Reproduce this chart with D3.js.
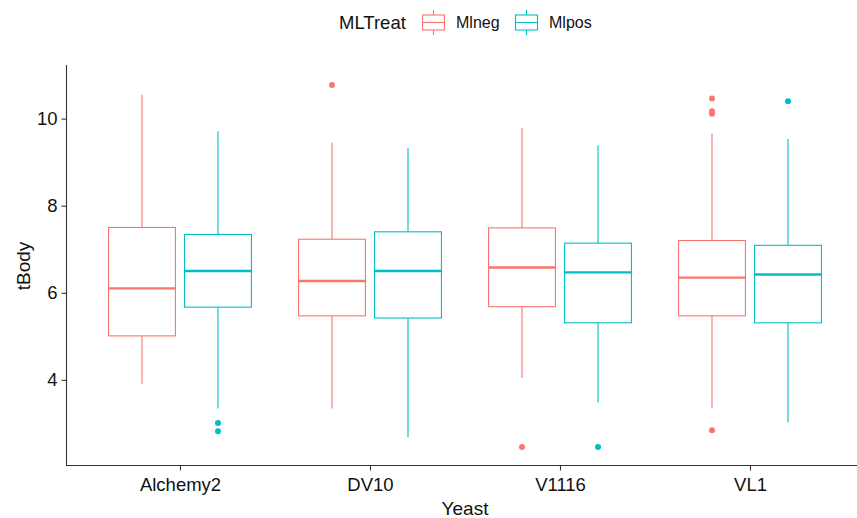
<!DOCTYPE html>
<html>
<head>
<meta charset="utf-8">
<script src="https://cdn.jsdelivr.net/npm/d3@7"></script>
<style>
  html, body { margin: 0; padding: 0; background: #fff; }
  svg { display: block; font-family: "Liberation Sans", Arial, sans-serif; }
</style>
</head>
<body>
<svg id="chart" width="857" height="518"></svg>
<script>
// Yeast strains on the x axis, treatment groups dodged within each strain
const categories = ["Alchemy2", "DV10", "V1116", "VL1"];
const groups = ["Mlneg", "Mlpos"];
const yTicks = [4, 6, 8, 10];

// Box statistics per strain (same order as categories)
const mlnegLower  = [3.91, 3.34, 4.04, 3.34];
const mlnegQ1     = [5.01, 5.47, 5.68, 5.47];
const mlnegMedian = [6.10, 6.27, 6.58, 6.35];
const mlnegQ3     = [7.50, 7.23, 7.49, 7.20];
const mlnegUpper  = [10.55, 9.45, 9.79, 9.66];
const mlnegOutliers = [[], [10.77], [2.46], [10.46, 10.17, 10.11, 2.84]];

const mlposLower  = [3.34, 2.69, 3.48, 3.02];
const mlposQ1     = [5.67, 5.42, 5.31, 5.31];
const mlposMedian = [6.50, 6.50, 6.47, 6.42];
const mlposQ3     = [7.34, 7.40, 7.14, 7.09];
const mlposUpper  = [9.71, 9.33, 9.39, 9.53];
const mlposOutliers = [[3.01, 2.82], [], [2.46], [10.40]];

const colors = { Mlneg: "#F8766D", Mlpos: "#00BFC4" };

// Assemble rows for drawing
const series = {
  Mlneg: { lower: mlnegLower, q1: mlnegQ1, median: mlnegMedian, q3: mlnegQ3, upper: mlnegUpper, out: mlnegOutliers },
  Mlpos: { lower: mlposLower, q1: mlposQ1, median: mlposMedian, q3: mlposQ3, upper: mlposUpper, out: mlposOutliers }
};
const boxes = [];
categories.forEach((c, i) => {
  groups.forEach(g => {
    const s = series[g];
    boxes.push({ cat: c, group: g, lower: s.lower[i], q1: s.q1[i], median: s.median[i],
                 q3: s.q3[i], upper: s.upper[i], out: s.out[i] });
  });
});

const svg = d3.select("#chart");
const panel = { left: 66, right: 864, top: 67, bottom: 465 };

// Discrete x with 0.6-unit expansion on both sides
const x = d3.scalePoint().domain(categories).range([panel.left, panel.right]).padding(0.6);
const step = x.step();
const dodge = d3.scaleBand().domain(groups).range([-0.4 * step, 0.4 * step]);
const boxW = dodge.bandwidth() * 0.88;

// y expanded 5% beyond the data range
const allVals = boxes.flatMap(b => [b.lower, b.upper, ...b.out]);
const lo = d3.min(allVals), hi = d3.max(allVals);
const pad = (hi - lo) * 0.05;
const y = d3.scaleLinear().domain([lo - pad, hi + pad]).range([panel.bottom, panel.top]);

const cx = b => x(b.cat) + dodge(b.group) + dodge.bandwidth() / 2;

// Boxes
const g = svg.append("g");
const bx = g.selectAll("g.box").data(boxes).join("g").attr("class", "box");

bx.append("line")
  .attr("x1", cx).attr("x2", cx)
  .attr("y1", b => y(b.upper)).attr("y2", b => y(b.q3))
  .attr("stroke", b => colors[b.group]).attr("stroke-width", 1.1);
bx.append("line")
  .attr("x1", cx).attr("x2", cx)
  .attr("y1", b => y(b.q1)).attr("y2", b => y(b.lower))
  .attr("stroke", b => colors[b.group]).attr("stroke-width", 1.1);
bx.append("rect")
  .attr("x", b => cx(b) - boxW / 2).attr("width", boxW)
  .attr("y", b => y(b.q3)).attr("height", b => y(b.q1) - y(b.q3))
  .attr("fill", "#fff").attr("stroke", b => colors[b.group]).attr("stroke-width", 1.1);
bx.append("line")
  .attr("x1", b => cx(b) - boxW / 2).attr("x2", b => cx(b) + boxW / 2)
  .attr("y1", b => y(b.median)).attr("y2", b => y(b.median))
  .attr("stroke", b => colors[b.group]).attr("stroke-width", 2.3);
bx.selectAll("circle").data(b => b.out.map(v => ({ v, b }))).join("circle")
  .attr("cx", d => cx(d.b)).attr("cy", d => y(d.v)).attr("r", 3)
  .attr("fill", d => colors[d.b.group]);

// Axes
const axisColor = "#333";
const textColor = "#111";

const yAxis = svg.append("g").attr("transform", `translate(${panel.left + 0.5},0)`)
  .call(d3.axisLeft(y).tickValues(yTicks).tickSize(5).tickPadding(4).tickSizeOuter(0));
yAxis.select(".domain").attr("d", `M0,${panel.top - 2}V${panel.bottom}`);

const xAxis = svg.append("g").attr("transform", `translate(0,${panel.bottom + 0.5})`)
  .call(d3.axisBottom(x).tickSize(5).tickPadding(7).tickSizeOuter(0));
xAxis.select(".domain").attr("d", `M${panel.left},0H${panel.right}`);

[yAxis, xAxis].forEach(a => {
  a.select(".domain").attr("stroke", axisColor).attr("stroke-width", 1.1);
  a.selectAll(".tick line").attr("stroke", axisColor).attr("stroke-width", 1.1);
  a.selectAll(".tick text").attr("fill", textColor)
    .attr("font-family", "'Liberation Sans', Arial, sans-serif").attr("font-size", 18.5);
});

// Axis titles
svg.append("text")
  .attr("x", (panel.left + panel.right) / 2).attr("y", 515)
  .attr("text-anchor", "middle").attr("font-size", 19).attr("fill", textColor)
  .text("Yeast");
svg.append("text")
  .attr("transform", `translate(30,${(panel.top + panel.bottom) / 2}) rotate(-90)`)
  .attr("text-anchor", "middle").attr("font-size", 19).attr("fill", textColor)
  .text("tBody");

// Legend
const legend = svg.append("g");
legend.append("text").attr("x", 339).attr("y", 29)
  .attr("font-size", 18.5).attr("fill", textColor).text("MLTreat");

const keyX = { Mlneg: 422, Mlpos: 515 };
groups.forEach(gr => {
  const k = legend.append("g").attr("transform", `translate(${keyX[gr]},0)`);
  const col = colors[gr];
  k.append("line").attr("x1", 11.5).attr("x2", 11.5).attr("y1", 10).attr("y2", 15)
    .attr("stroke", col).attr("stroke-width", 1.1);
  k.append("line").attr("x1", 11.5).attr("x2", 11.5).attr("y1", 30).attr("y2", 35)
    .attr("stroke", col).attr("stroke-width", 1.1);
  k.append("rect").attr("x", 0.5).attr("y", 15).attr("width", 22).attr("height", 15)
    .attr("fill", "#fff").attr("stroke", col).attr("stroke-width", 1.1);
  k.append("line").attr("x1", 0.5).attr("x2", 22.5).attr("y1", 22.5).attr("y2", 22.5)
    .attr("stroke", col).attr("stroke-width", 1.1);
  k.append("text").attr("x", 34).attr("y", 28)
    .attr("font-size", 16).attr("fill", textColor).text(gr);
});
</script>
</body>
</html>
